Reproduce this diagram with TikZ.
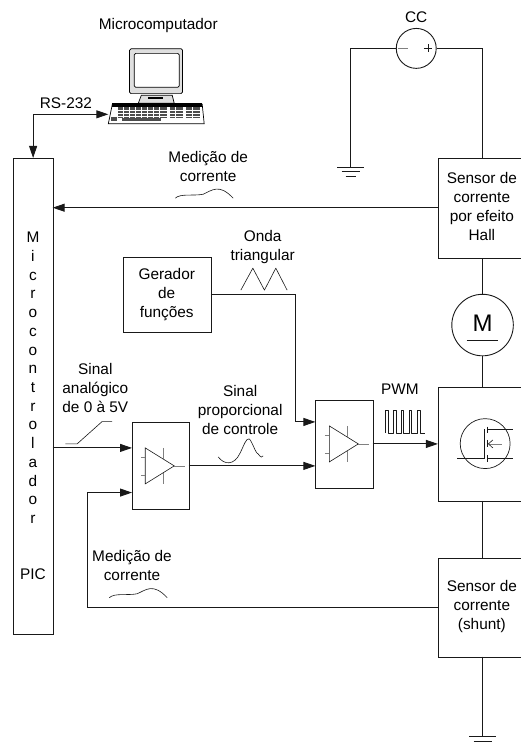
\documentclass[tikz,border=0pt]{standalone}
\usepackage{fontspec}
\setmainfont{Liberation Sans}
\usetikzlibrary{arrows.meta}
\definecolor{wire}{gray}{0.1}
\tikzset{
  x=1pt,y=-1pt,
  every path/.style={line width=0.9pt,draw=wire},
  lbl/.style={draw=none,align=center,font=\fontsize{15.4}{19}\selectfont,inner sep=0pt,text=black},
  box/.style={draw,rectangle,anchor=north west,inner sep=0pt},
  arr/.style={-{Triangle[length=12pt,width=8pt]}},
  thinl/.style={line width=0.6pt},
  wave/.style={line width=0.6pt,line join=round},
  gnd/.style={line width=0.9pt}
}
\newcommand{\ampsym}[2]{%
  \begin{scope}[shift={(#1,#2)}]
    \draw[thinl] (-29,-18) -- (-29,18) -- (0,0) -- cycle;
    \draw[thinl,gray] (-33.5,-9) -- (-29,-9) (-33.5,9) -- (-29,9);
    \draw[thinl,gray] (-11,-18) -- (-11,-7) (-11,7) -- (-11,18);
    \draw[thinl,gray] (0,0) -- (11,0);
  \end{scope}}
\newcommand{\gndsym}[2]{%
  \begin{scope}[shift={(#1,#2)}]
    \draw[gnd] (-13.5,0) -- (13.5,0);
    \draw[thinl] (-9,4.3) -- (9,4.3);
    \draw[thinl] (-5,8.6) -- (5,8.6);
  \end{scope}}
\newcommand{\curwave}[2]{%
  \draw[wave,shift={(#1,#2)}] (0,0) .. controls (5,-5) and (18,-2) .. (28,-4) .. controls (37,-8) and (44,-15) .. (58,0);}
\begin{document}
\begin{tikzpicture}
\useasboundingbox (0,0) rectangle (520,744);
\fill[white,draw=none] (0,0) rectangle (520,744);

% Microcontroller
\node[box,minimum width=39.6pt,minimum height=476.5pt] (mcu) at (12.7,157.7) {};
\foreach \c [count=\i from 0] in {M,i,c,r,o,c,o,n,t,r,o,l,a,d,o,r}
  \node[lbl,anchor=base] at (32.5,{242.5+18.75*\i}) {\c};
\node[lbl] (pic) at (32.5,574) {PIC};

% Boxes
\node[box,minimum width=90pt,minimum height=100pt] (hall) at (438,158) {};
\node[lbl] (halltext) at (482,206.5) {Sensor de\\corrente\\por efeito\\Hall};
\node[box,minimum width=90pt,minimum height=114pt] (fet) at (438,387) {};
\node[box,minimum width=90pt,minimum height=99pt] (shunt) at (438,558) {};
\node[lbl] (shunttext) at (482,607) {Sensor de\\corrente\\(shunt)};
\node[box,minimum width=88.4pt,minimum height=74.4pt] (gen) at (122.3,257.3) {};
\node[lbl] (gentext) at (166.5,294) {Gerador\\de\\funções};
\node[box,minimum width=56.8pt,minimum height=87pt] (a1) at (131.7,422) {};
\node[box,minimum width=57.4pt,minimum height=88pt] (a2) at (315.3,400) {};

\ampsym{174}{466}
\ampsym{358.3}{444}

% Motor
\node[draw,circle,minimum size=61.6pt,inner sep=0pt] (mot) at (482.7,325) {};
\node[lbl,font=\fontsize{24}{26}\selectfont] (mtext) at (482.7,323.5) {M};
\draw[thinl] (466.7,340.7) -- (498,340.7);

% CC source
\node[draw,circle,minimum size=40pt,inner sep=0pt] (cc) at (416.3,48) {};
\node[lbl] (cctext) at (416.3,17) {CC};
\draw[thinl,gray] (398,48) -- (408,48);
\draw[thinl] (424,48) -- (432,48) (428,44) -- (428,52);

% Wires
\coordinate (gndtop) at (350.7,167);
\coordinate (gndbot) at (482.7,737);
\draw (cc.west) -- (350.7,48) -- (gndtop);
\gndsym{350.7}{167}
\draw (cc.east) -- (482.7,48) -- (482.7,158);
\draw (482.7,258) -- (mot.north);
\draw (mot.south) -- (482.7,387);
\draw (482.7,501) -- (482.7,558);
\draw (482.7,657) -- (gndbot);
\gndsym{482.7}{737}

% Signals
\draw[arr] (438,207.5) -- (52.3,207.5);
\draw[arr] (52.3,448) -- (131.7,448);
\draw[arr] (438,608) -- (87,608) -- (87,492.7) -- (131.7,492.7);
\draw[arr] (188.5,466) -- (315.3,466);
\draw[arr] (210.7,294) -- (295.3,294) -- (295.3,422) -- (315.3,422);
\draw[arr] (372.7,444) -- (438,444);

% RS-232
\coordinate (pcleft) at (108,114);
\draw[{Triangle[length=12pt,width=8pt]}-{Triangle[length=12pt,width=8pt]}] (32.7,157.7) -- (32.7,114) -- (pcleft);
\node[lbl] (rs) at (65.5,103) {RS-232};

% Computer
\node[lbl] (mc) at (158,25) {Microcomputador};
\begin{scope}
  \fill[gray!25,draw=black,line width=0.7pt,rounded corners=1.5pt] (129.3,48.3) rectangle (182.3,93.3);
  \fill[white,draw=black,line width=0.7pt,rounded corners=1.5pt] (134,53) rectangle (179,87);
  \fill[gray!25,draw=black,line width=0.7pt] (138,103) -- (141,95) -- (172,95) -- (174,103) -- cycle;
  \fill[black,draw=none] (148,96.5) rectangle (163,99);
  \fill[white,draw=black,line width=0.7pt] (112,104) -- (202,104) -- (204,123.5) -- (108,123.5) -- cycle;
  \fill[black,draw=none] (112,103) rectangle (202,107);
  \fill[black!70,draw=none] (118,107) rectangle (167,118);
  \fill[black!70,draw=none] (170,107) rectangle (183,118);
  \fill[black!70,draw=none] (186,107) rectangle (200,118);
  \fill[black!70,draw=none] (122,118) rectangle (161,121);
  \fill[black!70,draw=none] (110.5,117) rectangle (117,121);
  \foreach \yy in {110,113,116} \draw[white,line width=0.3pt] (118,\yy) -- (200,\yy);
  \foreach \xx in {123,129,135,141,147,153,159,175,192} \draw[white,line width=0.3pt] (\xx,107) -- (\xx,118);
\end{scope}

% FET
\node[draw,circle,minimum size=50pt,inner sep=0pt,line width=0.7pt] (fc) at (485.3,443.7) {};
\draw[thinl] (457.3,458.4) -- (484,458.4) -- (484,429);
\draw[thinl] (487.3,426.7) -- (487.3,433) (487.3,440) -- (487.3,447) (487.3,455) -- (487.3,462);
\draw[thinl] (487.3,429) -- (513,429);
\draw[thinl] (487.3,458.4) -- (513,458.4);
\draw[thinl,gray] (489,444) -- (501.7,444);
\draw[thinl] (493,440) -- (488.5,444) -- (493,448);

% Labels
\node[lbl] (l1) at (208,166) {Medição de\\corrente};
\curwave{175}{198}
\node[lbl] (l2) at (262.5,246.5) {Onda\\triangular};
\draw[wave] (240.7,290) -- (252.7,268) -- (264.3,290) -- (275.7,268) -- (287,290);
\node[lbl] (l3) at (95,388) {Sinal\\analógico\\de 0 à 5V};
\draw[wave] (65,444) -- (76.7,444) -- (101.7,421.7) -- (111.7,421.7);
\node[lbl] (l4) at (240,410) {Sinal\\proporcional\\de controle};
\draw[wave] (218,457) .. controls (224,465) and (234,466) .. (240,453) .. controls (244,445) and (246,438) .. (249,439) .. controls (252,441) and (255,453) .. (258,454) .. controls (260,455) and (260,459) .. (263,456);
\node[lbl] (l5) at (400,389) {PWM};
\draw[wave] (385,433) -- (385,410.7) -- (388.7,410.7) -- (388.7,433) -- (393.3,433) -- (393.3,410.7) -- (396,410.7) -- (396,433) -- (401,433) -- (401,410.7) -- (403.3,410.7) -- (403.3,433) -- (409.3,433) -- (409.3,410.7) -- (411,410.7) -- (411,433) -- (417.3,433) -- (417.3,410.7) -- (420.7,410.7) -- (420.7,433) -- (425,433);
\node[lbl] (l6) at (131.7,566) {Medição de\\corrente};
\curwave{109}{598}
\end{tikzpicture}
\end{document}
